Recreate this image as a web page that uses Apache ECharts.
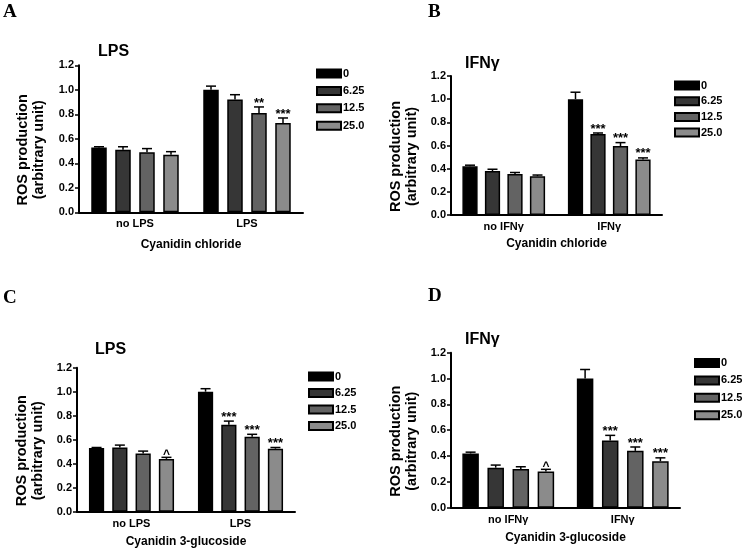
<!DOCTYPE html>
<html><head><meta charset="utf-8">
<script src="https://cdn.jsdelivr.net/npm/echarts@6/dist/echarts.min.js"></script>
<style>html,body{margin:0;padding:0;background:#fff}#c{width:750px;height:551px}</style>
</head><body><div id="c"></div>
<script>
// ---------- data ----------
const doses = ['0', '6.25', '12.5', '25.0'];
const catsLPS = ['no LPS', 'LPS'];
const catsIFN = ['no IFNγ', 'IFNγ'];
const yMin = 0, yMax = 1.2, yStep = 0.2;

// rows = dose series, columns = [no stimulus, stimulus]
const meanA = [[0.53, 1.00], [0.51, 0.92], [0.49, 0.81], [0.47, 0.73]];
const errA  = [[0.005, 0.03], [0.025, 0.04], [0.03, 0.05], [0.025, 0.04]];
const sigA  = [['', ''], ['', ''], ['', '**'], ['', '***']];

const meanB = [[0.42, 1.00], [0.38, 0.70], [0.355, 0.595], [0.335, 0.48]];
const errB  = [[0.01, 0.06], [0.015, 0.008], [0.012, 0.03], [0.01, 0.013]];
const sigB  = [['', ''], ['', '***'], ['', '***'], ['', '***']];

const meanC = [[0.53, 1.00], [0.535, 0.725], [0.485, 0.625], [0.44, 0.525]];
const errC  = [[0.005, 0.025], [0.02, 0.03], [0.02, 0.02], [0.013, 0.01]];
const sigC  = [['', ''], ['', '***'], ['', '***'], ['^', '***']];

const meanD = [[0.42, 1.00], [0.31, 0.52], [0.30, 0.44], [0.28, 0.36]];
const errD  = [[0.01, 0.07], [0.02, 0.04], [0.017, 0.03], [0.017, 0.026]];
const sigD  = [['', ''], ['', '***'], ['', '***'], ['^', '***']];

// ---------- style ----------
const FONT = '"Liberation Sans", Arial, sans-serif';
const SERIF = '"Liberation Serif", "Times New Roman", serif';
const barColors = ['#000000', '#363636', '#636363', '#8b8b8b'];

const panels = [
  { letter: 'A', title: 'LPS', cats: catsLPS, mean: meanA, err: errA, sig: sigA, xname: 'Cyanidin chloride',
    grid: { left: 79, top: 65.3, width: 224, height: 147 }, bw: 15.5, gap: 8.5,
    legend: { left: 316, top: 68, gap: 6.4 }, titlePos: [98, 44], letterPos: [3, 3], yGap: 32, xGap: 26 },
  { letter: 'B', title: 'IFNγ', cats: catsIFN, mean: meanB, err: errB, sig: sigB, xname: 'Cyanidin chloride',
    grid: { left: 451, top: 76, width: 211, height: 139 }, bw: 15.2, gap: 7.3,
    legend: { left: 674, top: 80, gap: 4.7 }, titlePos: [465, 55.5], letterPos: [428, 2.5], yGap: 31, xGap: 23 },
  { letter: 'C', title: 'LPS', cats: catsLPS, mean: meanC, err: errC, sig: sigC, xname: 'Cyanidin 3-glucoside',
    grid: { left: 77, top: 367.7, width: 218, height: 144 }, bw: 15.2, gap: 8.1,
    legend: { left: 308, top: 371, gap: 5.5 }, titlePos: [95, 341.5], letterPos: [3, 288.5], yGap: 31.5, xGap: 24 },
  { letter: 'D', title: 'IFNγ', cats: catsIFN, mean: meanD, err: errD, sig: sigD, xname: 'Cyanidin 3-glucoside',
    grid: { left: 451, top: 352.7, width: 229, height: 155 }, bw: 16.5, gap: 8.6,
    legend: { left: 694, top: 357.5, gap: 6.4 }, titlePos: [465, 332], letterPos: [428, 286.5], yGap: 31, xGap: 24 }
];

const option = { animation: false, backgroundColor: '#fff', grid: [], xAxis: [], yAxis: [], series: [], legend: [], title: [] };

panels.forEach((p, pi) => {
  option.grid.push(p.grid);
  option.title.push({ text: p.letter, left: p.letterPos[0], top: p.letterPos[1], padding: 0,
    textStyle: { fontFamily: SERIF, fontWeight: 'bold', fontSize: 19, color: '#000' } });
  option.title.push({ text: p.title, left: p.titlePos[0], top: p.titlePos[1], padding: 0,
    textStyle: { fontFamily: FONT, fontWeight: 'bold', fontSize: 16, color: '#000' } });
  option.xAxis.push({
    type: 'category', gridIndex: pi, data: p.cats,
    axisLine: { lineStyle: { color: '#000', width: 2 } },
    axisTick: { alignWithLabel: true, length: 4, lineStyle: { color: '#000', width: 1.5 } },
    axisLabel: { color: '#000', fontFamily: FONT, fontWeight: 'bold', fontSize: 11, margin: 6.5 },
    name: p.xname, nameLocation: 'middle', nameGap: p.xGap,
    nameTextStyle: { color: '#000', fontFamily: FONT, fontWeight: 'bold', fontSize: 12 }
  });
  option.yAxis.push({
    type: 'value', gridIndex: pi, min: yMin, max: yMax, interval: yStep,
    axisLine: { show: true, lineStyle: { color: '#000', width: 2 } },
    axisTick: { show: true, length: 4, lineStyle: { color: '#000', width: 1.5 } },
    splitLine: { show: false },
    axisLabel: { color: '#000', fontFamily: FONT, fontWeight: 'bold', fontSize: 11, margin: 5,
      formatter: v => v.toFixed(1) },
    name: 'ROS production\n(arbitrary unit)', nameLocation: 'middle', nameGap: p.yGap,
    nameTextStyle: { color: '#000', fontFamily: FONT, fontWeight: 'bold', fontSize: 14.5, lineHeight: 16,
      padding: [0, 22, 0, 0] }
  });
  option.legend.push({
    data: doses, left: p.legend.left, top: p.legend.top, orient: 'vertical', padding: 0,
    itemWidth: 24, itemHeight: 8, itemGap: p.legend.gap, icon: 'rect', selectedMode: false,
    textStyle: { color: '#000', fontFamily: FONT, fontWeight: 'bold', fontSize: 11, padding: [0, 0, 0, -3] }
  });
  doses.forEach((d, s) => {
    option.series.push({
      type: 'bar', name: d, xAxisIndex: pi, yAxisIndex: pi,
      data: p.mean[s], barWidth: p.bw, barGap: (p.gap / p.bw * 100).toFixed(1) + '%',
      itemStyle: { color: barColors[s], borderColor: '#000', borderWidth: 1.5 }
    });
  });
  const errData = [];
  for (let s = 0; s < 4; s++) for (let c = 0; c < 2; c++) errData.push([c, p.mean[s][c] + p.err[s][c], s, p.mean[s][c]]);
  option.series.push({
    type: 'custom', name: 'err' + pi, xAxisIndex: pi, yAxisIndex: pi, data: errData, z: 5,
    encode: { x: 0, y: 1 },
    renderItem: (params, api) => {
      const c = api.value(0), top = api.value(1), s = api.value(2), m = api.value(3);
      const pb = api.coord([c, m]);
      const pt = api.coord([c, top]);
      const x = pb[0] + (s - 1.5) * (p.bw + p.gap);
      const cw = 5;
      const children = [
        { type: 'line', shape: { x1: x, y1: pb[1], x2: x, y2: pt[1] }, style: { stroke: '#000', lineWidth: 1.5 } },
        { type: 'line', shape: { x1: x - cw, y1: pt[1], x2: x + cw, y2: pt[1] }, style: { stroke: '#000', lineWidth: 1.5 } }
      ];
      const sig = p.sig[s][c];
      if (sig) {
        const caret = sig === '^';
        children.push({ type: 'text', x: x, y: pt[1] + (caret ? 3 : 2.5),
          style: { text: sig, align: 'center', verticalAlign: 'bottom', fill: '#000',
            font: 'bold ' + (caret ? 12 : 13) + 'px ' + FONT } });
      }
      return { type: 'group', children };
    }
  });
});

const chart = echarts.init(document.getElementById('c'), null, { renderer: 'canvas' });
chart.setOption(option);
</script>
</body></html>
